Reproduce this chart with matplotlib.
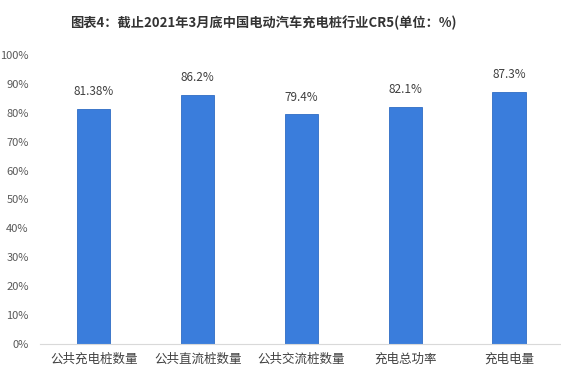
import matplotlib
matplotlib.use("Agg")
import matplotlib.pyplot as plt

plt.rcParams['font.family'] = ['Noto Sans CJK SC', 'DejaVu Sans']

categories = ["公共充电桩数量", "公共直流桩数量", "公共交流桩数量", "充电总功率", "充电电量"]
values = [81.38, 86.2, 79.4, 82.1, 87.3]
labels = ["81.38%", "86.2%", "79.4%", "82.1%", "87.3%"]
yticks = [0, 10, 20, 30, 40, 50, 60, 70, 80, 90, 100]

fig = plt.figure(figsize=(5.61, 3.76), dpi=100)
ax = fig.add_axes([0.071, 0.085, 0.929, 0.769])

x = range(len(categories))
bars = ax.bar(x, values, width=0.32, color="#3a7ddc", edgecolor="#2f6cc4", linewidth=0.6)
for xi, v, lab in zip(x, values, labels):
    ax.text(xi, v + 3.6, lab, ha="center", va="bottom", fontsize=8.5, color="#404040")

ax.set_xlim(-0.52, 4.5)
ax.set_ylim(0, 100)
ax.set_yticks(yticks)
ax.set_yticklabels([f"{t}%" for t in yticks], fontsize=8, color="#595959")
ax.set_xticks(list(x))
ax.set_xticklabels(categories, fontsize=9, color="#404040")
ax.tick_params(axis="both", length=0)
ax.tick_params(axis="y", pad=8)
ax.tick_params(axis="x", pad=6)
for s in ["top", "right", "left"]:
    ax.spines[s].set_visible(False)
ax.spines["bottom"].set_color("#d9d9d9")

fig.text(0.47, 0.94, "图表4：截止2021年3月底中国电动汽车充电桩行业CR5(单位：%)",
         ha="center", va="center", fontsize=9.5, fontweight="bold", color="#333333")

fig.savefig("out.png", dpi=100)
